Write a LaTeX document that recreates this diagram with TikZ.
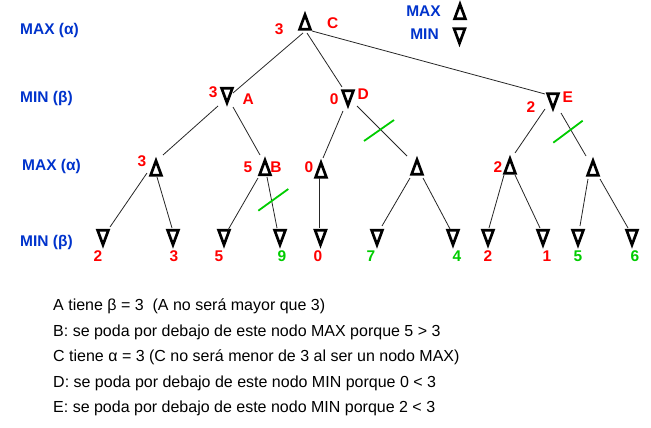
\documentclass[tikz,border=0pt]{standalone}
\usepackage{fontspec}
\setmainfont{Liberation Sans}
\definecolor{lblblue}{RGB}{0,51,204}
\definecolor{valred}{RGB}{255,0,0}
\definecolor{valgreen}{RGB}{0,204,0}
\newcommand\UpTri[1]{\draw[trishape] ([shift={(0,-6.3)}]#1.center) -- ([shift={(5.4,8.3)}]#1.center) -- ([shift={(-5.4,8.3)}]#1.center) -- cycle;}
\newcommand\DownTri[1]{\draw[trishape] ([shift={(0,6.3)}]#1.center) -- ([shift={(5.4,-8.3)}]#1.center) -- ([shift={(-5.4,-8.3)}]#1.center) -- cycle;}
\begin{document}
\begin{tikzpicture}[x=1pt,y=-1pt,
  tri/.style={minimum width=15pt,minimum height=19pt,inner sep=0pt,outer sep=0pt},
  trishape/.style={draw=black,line width=2.7pt,line join=miter},
  edge/.style={draw=black!85,line width=0.8pt},
  lvl/.style={text=lblblue,font=\fontsize{15.5}{18}\selectfont\bfseries,inner sep=0pt},
  val/.style={font=\fontsize{15.5}{18}\selectfont\bfseries,inner sep=0pt},
  valr/.style={val,text=valred},
  valg/.style={val,text=valgreen},
  prune/.style={draw=valgreen,line width=1.8pt},
  note/.style={font=\fontsize{16}{19}\selectfont,anchor=base west,inner sep=0pt}
]
\useasboundingbox (0,0) rectangle (651,428);

% level labels
\node[lvl,anchor=west] (lv0) at (20,30) {MAX (α)};
\node[lvl,anchor=west] (lv1) at (20,98) {MIN (β)};
\node[lvl,anchor=west] (lv2) at (22,166) {MAX (α)};
\node[lvl,anchor=west] (lv3) at (20,242) {MIN (β)};

% legend
\node[lvl] (lgmax) at (423.5,11) {MAX};
\node[lvl] (lgmin) at (424.5,34) {MIN};
\node[tri] (lgup) at (460,10.5) {};
\node[tri] (lgdn) at (459.5,37) {};

% tree nodes
\node[tri] (c) at (305,21) {};
\node[tri] (a) at (227,96.5) {};
\node[tri] (d) at (348,99) {};
\node[tri] (e) at (553,102) {};
\node[tri] (b1) at (156,167) {};
\node[tri] (b2) at (265,166.5) {};
\node[tri] (b3) at (321,169) {};
\node[tri] (b4) at (417,166) {};
\node[tri] (b5) at (510,165) {};
\node[tri] (b6) at (593,167) {};
\foreach \n/\x in {l1/103,l2/173,l3/224,l4/280,l5/320.5,l6/377,l7/453,l8/488,l9/543,l10/578,l11/632}
  \node[tri] (\n) at (\x,238.5) {};

% triangles
\UpTri{lgup}\DownTri{lgdn}
\UpTri{c}
\DownTri{a}\DownTri{d}\DownTri{e}
\foreach \n in {b1,b2,b3,b4,b5,b6} {\UpTri{\n}}
\foreach \n in {l1,l2,l3,l4,l5,l6,l7,l8,l9,l10,l11} {\DownTri{\n}}

% edges
\draw[edge] ([shift={(-2,12)}]c.center) -- ([shift={(6,-3.5)}]a.center);
\draw[edge] ([shift={(2,12)}]c.center) -- ([shift={(-6,-12)}]d.center);
\draw[edge] ([shift={(7,10)}]c.center) -- ([shift={(-8,-8)}]e.center);
\draw[edge] ([shift={(-9,9.5)}]a.center) -- ([shift={(7,-12)}]b1.center);
\draw[edge] ([shift={(6,10.5)}]a.center) -- ([shift={(-5,-11.5)}]b2.center);
\draw[edge] ([shift={(-5,12)}]d.center) -- ([shift={(2,-11)}]b3.center);
\draw[edge] ([shift={(9,7)}]d.center) -- ([shift={(-10,-10)}]b4.center);
\draw[edge] ([shift={(-8,7)}]e.center) -- ([shift={(5,-12)}]b5.center);
\draw[edge] ([shift={(8,11)}]e.center) -- ([shift={(-7,-11)}]b6.center);
\draw[edge] ([shift={(-9,6)}]b1.center) -- ([shift={(7,-11.5)}]l1.center);
\draw[edge] ([shift={(1,10)}]b1.center) -- ([shift={(-1,-10.5)}]l2.center);
\draw[edge] ([shift={(-7,11.5)}]b2.center) -- ([shift={(4,-8.5)}]l3.center);
\draw[edge] ([shift={(2,10.5)}]b2.center) -- ([shift={(-3,-10.5)}]l4.center);
\draw[edge] ([shift={(-2,9)}]b3.center) -- ([shift={(-1.5,-10.5)}]l5.center);
\draw[edge] ([shift={(-7,12)}]b4.center) -- ([shift={(5,-12.5)}]l6.center);
\draw[edge] ([shift={(6,12)}]b4.center) -- ([shift={(-3,-9.5)}]l7.center);
\draw[edge] ([shift={(-6,10)}]b5.center) -- ([shift={(1,-10.5)}]l8.center);
\draw[edge] ([shift={(5,10)}]b5.center) -- ([shift={(-3,-10.5)}]l9.center);
\draw[edge] ([shift={(-5,12)}]b6.center) -- ([shift={(2,-12.5)}]l10.center);
\draw[edge] ([shift={(7,12)}]b6.center) -- ([shift={(-4,-10.5)}]l11.center);

% prune marks
\draw[prune] (258.3,210.7) -- (288.3,189);
\draw[prune] (364,141) -- (394,120);
\draw[prune] (553.3,142.7) -- (582.7,120.7);

% node value labels
\node[valr] (vc) at (279.3,29.3) {3};
\node[valr] (nc) at (332.7,22.7) {C};
\node[valr] (va) at (213.3,91.7) {3};
\node[valr] (na) at (248.3,99.3) {A};
\node[valr] (vd) at (334.3,99) {0};
\node[valr] (nd) at (363.3,94.3) {D};
\node[valr] (ve) at (531,106.7) {2};
\node[valr] (ne) at (567.7,97.3) {E};
\node[valr] (vb1) at (142,161) {3};
\node[valr] (vb2) at (248,167) {5};
\node[valr] (nb) at (276,167) {B};
\node[valr] (vb3) at (309,167) {0};
\node[valr] (vb5) at (498,167) {2};

% leaf values
\node[valr] (v1) at (98,256.5) {2};
\node[valr] (v2) at (174,256.5) {3};
\node[valr] (v3) at (219,256.5) {5};
\node[valg] (v4) at (282,256.5) {9};
\node[valr] (v5) at (318,256.5) {0};
\node[valg] (v6) at (371,256.5) {7};
\node[valg] (v7) at (457,256.5) {4};
\node[valr] (v8) at (488,256.5) {2};
\node[valr] (v9) at (547,256.5) {1};
\node[valg] (v10) at (578,256.5) {5};
\node[valg] (v11) at (635,256.5) {6};

% notes
\node[note] (t1) at (53,310.5) {A tiene β = 3\ \ (A no será mayor que 3)};
\node[note] (t2) at (53,336) {B: se poda por debajo de este nodo MAX porque 5 > 3};
\node[note] (t3) at (53,361.5) {C tiene α = 3 (C no será menor de 3 al ser un nodo MAX)};
\node[note] (t4) at (53,387) {D: se poda por debajo de este nodo MIN porque 0 < 3};
\node[note] (t5) at (53,412.5) {E: se poda por debajo de este nodo MIN porque 2 < 3};
\end{tikzpicture}
\end{document}
